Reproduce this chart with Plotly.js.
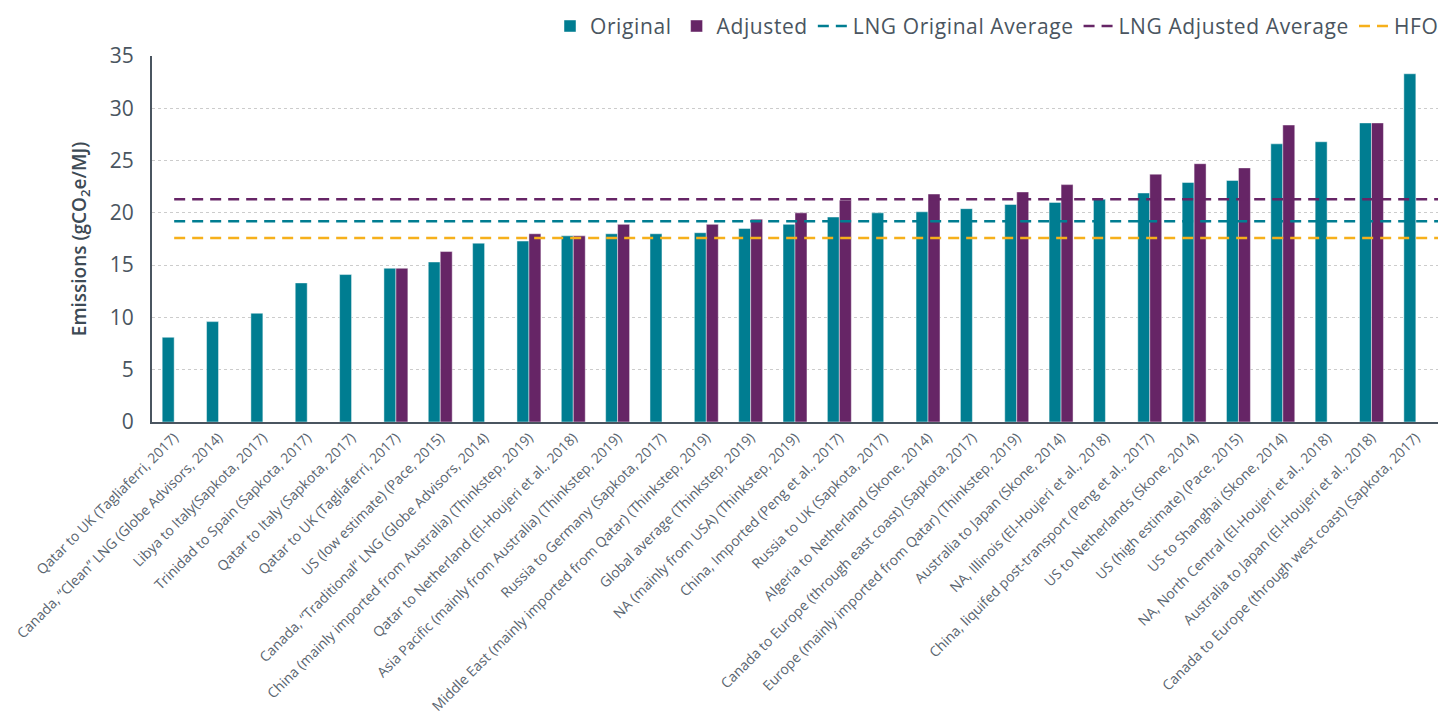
<!DOCTYPE html>
<html><head><meta charset="utf-8">
<script src="https://cdn.plot.ly/plotly-3.0.1.min.js"></script>
<style>html,body{margin:0;padding:0;background:#fff}#chart{width:1444px;height:715px}
.legendtext{letter-spacing:0.6px}</style>
</head><body><div id="chart"></div>
<script>
const categories = [
  "Qatar to UK (Tagliaferri, 2017)",
  "Canada, \u201cClean\u201d LNG (Globe Advisors, 2014)",
  "Libya to Italy(Sapkota, 2017)",
  "Trinidad to Spain (Sapkota, 2017)",
  "Qatar to Italy (Sapkota, 2017)",
  "Qatar to UK (Tagliaferri, 2017)",
  "US (low estimate) (Pace, 2015)",
  "Canada, \u201cTraditional\u201d LNG (Globe Advisors, 2014)",
  "China (mainly imported from Australia) (Thinkstep, 2019)",
  "Qatar to Netherland (El-Houjeri et al., 2018)",
  "Asia Pacific (mainly from Australia) (Thinkstep, 2019)",
  "Russia to Germany (Sapkota, 2017)",
  "Middle East (mainly imported from Qatar) (Thinkstep, 2019)",
  "Global average (Thinkstep, 2019)",
  "NA (mainly from USA) (Thinkstep, 2019)",
  "China, Imported (Peng et al., 2017)",
  "Russia to UK (Sapkota, 2017)",
  "Algeria to Netherland (Skone, 2014)",
  "Canada to Europe (through east coast) (Sapkota, 2017)",
  "Europe (mainly imported from Qatar) (Thinkstep, 2019)",
  "Australia to Japan (Skone, 2014)",
  "NA, Illinois (El-Houjeri et al., 2018)",
  "China, liquifed post-transport (Peng et al., 2017)",
  "US to Netherlands (Skone, 2014)",
  "US (high estimate) (Pace, 2015)",
  "US to Shanghai (Skone, 2014)",
  "NA, North Central (El-Houjeri et al., 2018)",
  "Australia to Japan (El-Houjeri et al., 2018)",
  "Canada to Europe (through west coast) (Sapkota, 2017)"
];
const original = [8.1, 9.6, 10.4, 13.3, 14.1, 14.7, 15.3, 17.1, 17.3, 17.8, 18.0, 18.0, 18.1, 18.5, 18.9, 19.6, 20.0, 20.1, 20.4, 20.8, 21.0, 21.3, 21.9, 22.9, 23.1, 26.6, 26.8, 28.6, 33.3];
const adjusted = [null, null, null, null, null, 14.7, 16.3, null, 18.0, 17.8, 18.9, null, 18.9, 19.4, 20.0, 21.2, null, 21.8, null, 22.0, 22.7, null, 23.7, 24.7, 24.3, 28.4, null, 28.6, null];
const lngOriginalAverage = 19.2;
const lngAdjustedAverage = 21.3;
const hfo = 17.6;
const yTicks = [0, 5, 10, 15, 20, 25, 30, 35];

const FONT = "'Open Sans', 'DejaVu Sans', sans-serif";
const TEAL = "#007d91", PURPLE = "#662566", ORANGE = "#f6b01b";
const idx = categories.map((_, i) => i + 1);
const lineX = [1, categories.length + 0.5];

const traces = [
  {type: "bar", name: "Original", x: idx, y: original,
   marker: {color: TEAL, line: {color: "rgba(255,255,255,0.45)", width: 1}}},
  {type: "bar", name: "Adjusted", x: idx, y: adjusted,
   marker: {color: PURPLE, line: {color: "rgba(255,255,255,0.45)", width: 1}}},
  {type: "scatter", mode: "lines", name: "LNG Original Average", x: lineX,
   y: lineX.map(() => lngOriginalAverage), line: {color: TEAL, width: 2.5, dash: "11px,7px"}},
  {type: "scatter", mode: "lines", name: "LNG Adjusted Average", x: lineX,
   y: lineX.map(() => lngAdjustedAverage), line: {color: PURPLE, width: 2.5, dash: "11px,7px"}},
  {type: "scatter", mode: "lines", name: "HFO", x: lineX,
   y: lineX.map(() => hfo), line: {color: ORANGE, width: 2.5, dash: "11px,7px"}}
];

const layout = {
  width: 1444, height: 715,
  margin: {l: 152, r: 0, t: 56, b: 293},
  paper_bgcolor: "#fff", plot_bgcolor: "#fff",
  font: {family: FONT, color: "#4a5560"},
  barmode: "group", bargap: 0.46, bargroupgap: 0,
  showlegend: true,
  legend: {orientation: "h", x: 1.005, xanchor: "right", y: 1.025, yanchor: "bottom",
           font: {size: 21, color: "#4a5560"}, traceorder: "normal", itemwidth: 30},
  xaxis: {range: [0.5, categories.length + 0.5], tickmode: "array", tickvals: idx, ticktext: categories,
          tickangle: -45, tickfont: {size: 14, color: "#5a6570"}, showgrid: false,
          showline: true, linecolor: "#4a5560", linewidth: 2, ticks: "", zeroline: false},
  yaxis: {range: [0, 35], tickmode: "array", tickvals: yTicks, tickfont: {size: 21, color: "#4a5560"},
          showgrid: true, gridcolor: "#cccccc", griddash: "dot", gridwidth: 1,
          showline: true, linecolor: "#4a5560", linewidth: 2, zeroline: false, ticks: "",
          ticklabelstandoff: 12,
          title: {text: "Emissions (gCO<sub>2</sub>e/MJ)", font: {size: 19, color: "#3d4a55", weight: 600}, standoff: 18}}
};

Plotly.newPlot("chart", traces, layout, {displayModeBar: false, staticPlot: true});
</script></body></html>
